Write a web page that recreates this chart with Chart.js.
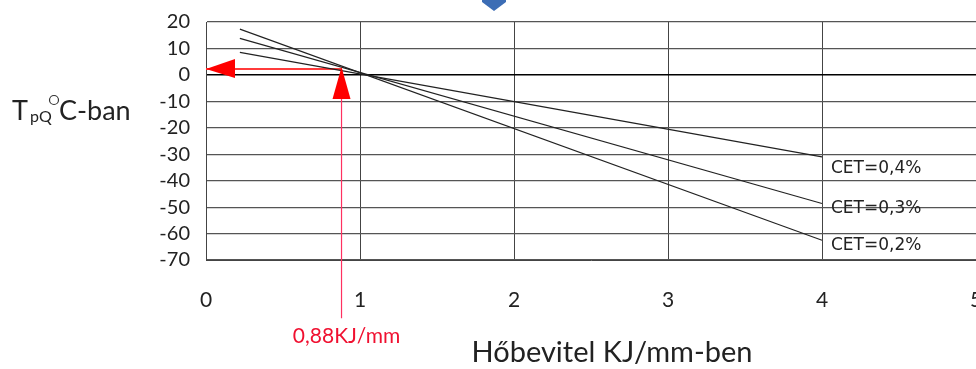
<!DOCTYPE html>
<html>
<head>
<meta charset="utf-8">
<script src="https://cdn.jsdelivr.net/npm/chart.js@4"></script>
<style>
  html, body { margin: 0; padding: 0; background: #fff; overflow: hidden; }
  #wrap { width: 976px; height: 369px; }
</style>
</head>
<body>
<div id="wrap"><canvas id="chart"></canvas></div>
<script>
// data
const lineX = [0.22, 4];
const cet04 = [8.5, -31];
const cet03 = [13.8, -48.6];
const cet02 = [17.3, -62.5];
const cetLabels = ["CET=0,4%", "CET=0,3%", "CET=0,2%"];
const cetLabelY = [-35.5, -50.5, -64.5];

const markX = 0.88;
const markY = 2.2;
const markBottom = -92;   // red guide runs below the axis
const markLabel = "0,88KJ/mm";

const xTitle = "Hőbevitel KJ/mm-ben";
const yMin = -70, yMax = 20, xMin = 0, xMax = 5;

const ctx = document.getElementById("chart").getContext("2d");

function pts(ys) {
  return ys.map((y, i) => ({ x: lineX[i], y: y }));
}

// extra drawing: arrow heads, labels, axis titles
const extras = {
  id: "extras",
  afterDraw(chart) {
    const c = chart.ctx;
    const xs = chart.scales.x, ys = chart.scales.y;
    const area = chart.chartArea;
    c.save();

    // CET labels at the line ends
    c.fillStyle = "#222";
    c.font = "17px 'DejaVu Sans'";
    c.textBaseline = "middle";
    c.textAlign = "left";
    cetLabels.forEach((t, i) => {
      c.fillText(t, xs.getPixelForValue(lineX[1]) + 9, ys.getPixelForValue(cetLabelY[i]));
    });

    // red arrow heads
    const px = xs.getPixelForValue(markX), py = ys.getPixelForValue(markY);
    c.fillStyle = "#f00";
    c.beginPath();
    c.moveTo(px, py - 2);
    c.lineTo(px - 9, py + 30);
    c.lineTo(px + 9, py + 30);
    c.closePath();
    c.fill();
    const ax = xs.getPixelForValue(0);
    c.beginPath();
    c.moveTo(ax, py);
    c.lineTo(ax + 29, py - 10);
    c.lineTo(ax + 29, py + 9);
    c.closePath();
    c.fill();

    // red value label
    c.textBaseline = "alphabetic";
    c.font = "21px Lato";
    c.textAlign = "center";
    c.fillStyle = "#f01030";
    c.fillText(markLabel, px + 5, area.bottom + 83);

    // x title
    c.fillStyle = "#222";
    c.font = "29px Lato";
    c.fillText(xTitle, 612, area.bottom + 102);

    // y title  T(pq) °C-ban
    const ty = 120;
    c.textAlign = "left";
    c.font = "27px Lato";
    c.fillText("T", 12, ty);
    c.font = "16px Lato";
    c.fillText("pQ", 30, ty + 2);
    c.font = "27px Lato";
    c.fillText("C-ban", 59, ty);
    c.strokeStyle = "#333";
    c.lineWidth = 1.2;
    c.beginPath();
    c.arc(54, 100, 4.5, 0, Math.PI * 2);
    c.stroke();

    // blue marker cut off at the top edge
    c.fillStyle = "#3c6db5";
    c.beginPath();
    c.moveTo(482, 0);
    c.lineTo(506, 0);
    c.lineTo(506, 2);
    c.lineTo(494, 11);
    c.lineTo(482, 2);
    c.closePath();
    c.fill();

    c.restore();
  }
};

const chart = new Chart(ctx, {
  type: "line",
  data: {
    datasets: [
      { label: cetLabels[0], data: pts(cet04), borderColor: "#222", borderWidth: 1.1, pointRadius: 0, tension: 0 },
      { label: cetLabels[1], data: pts(cet03), borderColor: "#222", borderWidth: 1.1, pointRadius: 0, tension: 0 },
      { label: cetLabels[2], data: pts(cet02), borderColor: "#222", borderWidth: 1.1, pointRadius: 0, tension: 0 },
      { label: "guide-h", data: [{ x: markX, y: markY }, { x: xMin, y: markY }],
        borderColor: "#ff3b3b", borderWidth: 2, pointRadius: 0, tension: 0 },
      { label: "guide-v", data: [{ x: markX, y: markY }, { x: markX, y: markBottom }],
        borderColor: "#ff3060", borderWidth: 1.2, pointRadius: 0, tension: 0, clip: false }
    ]
  },
  options: {
    responsive: true,
    maintainAspectRatio: false,
    animation: false,
    layout: { padding: { top: 22, left: 0, right: 0, bottom: 0 } },
    plugins: { legend: { display: false }, tooltip: { enabled: false } },
    scales: {
      x: {
        type: "linear",
        min: xMin, max: xMax,
        ticks: { stepSize: 1, autoSkip: false, padding: 28, color: "#222", font: { family: "Lato", size: 21 } },
        grid: { color: "#444", lineWidth: 1, drawTicks: false },
        border: { display: true, color: "#444" },
        afterFit(scale) {
          scale.height = 109;
          scale.paddingRight = 0;
          scale.paddingLeft = 0;
        }
      },
      y: {
        min: yMin, max: yMax,
        ticks: { stepSize: 10, autoSkip: false, padding: 16, color: "#222", font: { family: "Lato", size: 20 } },
        grid: {
          color: (c) => (c.tick && c.tick.value === 0 ? "#000" : "#555"),
          lineWidth: (c) => (c.tick && c.tick.value === 0 ? 1.6 : 1.2),
          drawTicks: false
        },
        border: { display: true, color: "#444" },
        afterFit(scale) {
          scale.width = 206;
          scale.paddingTop = 0;
        }
      }
    }
  },
  plugins: [extras]
});
</script>
</body>
</html>
